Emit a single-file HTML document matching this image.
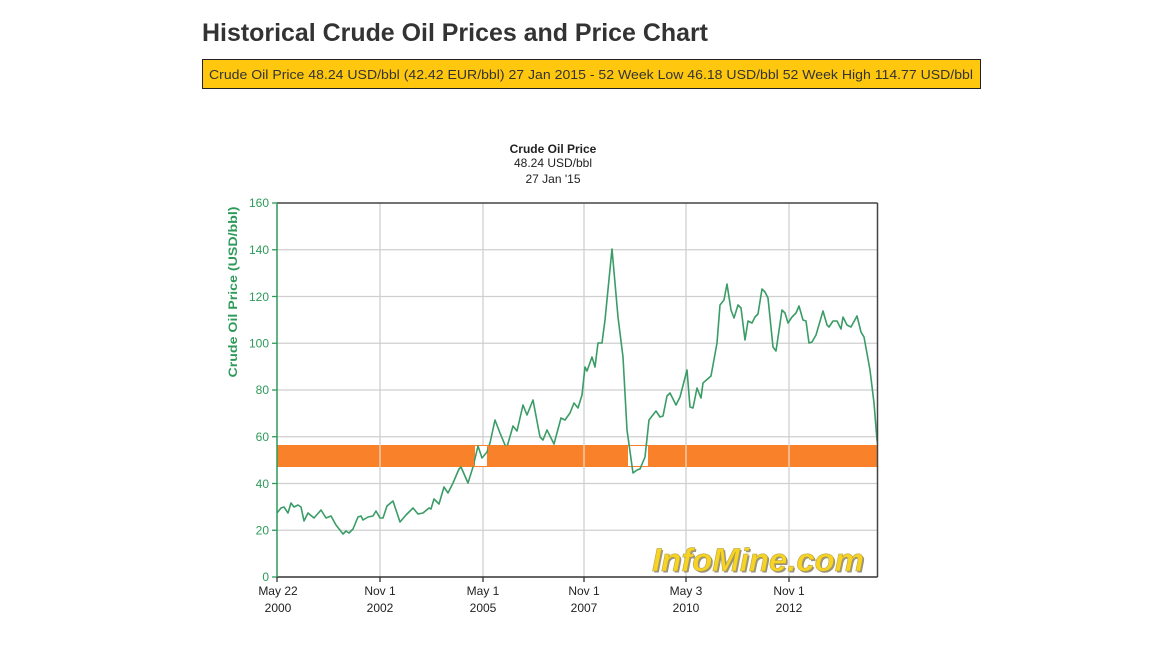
<!DOCTYPE html>
<html><head><meta charset="utf-8">
<style>
html,body{margin:0;padding:0;background:#fff;}
svg{display:block;}
text{font-family:"Liberation Sans",Arial,sans-serif;}
</style></head>
<body>
<svg width="1152" height="648" viewBox="0 0 1152 648" xmlns="http://www.w3.org/2000/svg">
<rect width="1152" height="648" fill="#fff"/>
<text x="202" y="41" font-size="25" font-weight="bold" fill="#333" textLength="506" lengthAdjust="spacingAndGlyphs">Historical Crude Oil Prices and Price Chart</text>
<rect x="202.5" y="59.5" width="778" height="29" fill="#FFC80F" stroke="#222" stroke-width="1"/>
<text x="209" y="79" font-size="13" fill="#333" textLength="764" lengthAdjust="spacingAndGlyphs">Crude Oil Price 48.24 USD/bbl (42.42 EUR/bbl) 27 Jan 2015 - 52 Week Low 46.18 USD/bbl 52 Week High 114.77 USD/bbl</text>

<text x="553" y="153" font-size="12" font-weight="bold" fill="#222" text-anchor="middle">Crude Oil Price</text>
<text x="553" y="167" font-size="12" fill="#222" text-anchor="middle">48.24 USD/bbl</text>
<text x="553" y="183" font-size="12" fill="#222" text-anchor="middle">27 Jan '15</text>

<g stroke="#cfcfcf" stroke-width="1.3">
<line x1="277" y1="530.25" x2="877" y2="530.25"/>
<line x1="277" y1="483.5" x2="877" y2="483.5"/>
<line x1="277" y1="436.75" x2="877" y2="436.75"/>
<line x1="277" y1="390" x2="877" y2="390"/>
<line x1="277" y1="343.25" x2="877" y2="343.25"/>
<line x1="277" y1="296.5" x2="877" y2="296.5"/>
<line x1="277" y1="249.75" x2="877" y2="249.75"/>
<line x1="380" y1="203" x2="380" y2="577"/>
<line x1="483" y1="203" x2="483" y2="577"/>
<line x1="584" y1="203" x2="584" y2="577"/>
<line x1="686" y1="203" x2="686" y2="577"/>
<line x1="789" y1="203" x2="789" y2="577"/>
</g>

<rect x="277" y="445" width="600" height="22" fill="#F8812A"/>
<rect x="474.5" y="445.5" width="13" height="21" fill="#fff" stroke="#F8812A" stroke-width="1"/>
<rect x="627.5" y="445.5" width="21" height="21" fill="#fff" stroke="#F8812A" stroke-width="1"/>

<clipPath id="c"><rect x="277" y="203" width="600" height="374"/></clipPath>
<polyline clip-path="url(#c)" fill="none" stroke="#3A9C66" stroke-width="1.6" stroke-linejoin="round" points="277,513 281,508 284,507 288,513 291,503 294,507 298,505 301,507 304,521 308,513 314,518 321,510 326,518 331,516 336,525 343,534 346,531 349,533 353,529 358,517 361,516 363,520 368,517 373,516 376,511 380,518 383,518 387,506 393,501 400,522 406,515 413,508 418,514 423,513 429,508 431,509 434,499 439,504 444,487 448,493 453,483 459,469 461,467 468,483 473,467 478,446 482,458 487,452 490,443 495,420 500,433 505,445 507,447 513,426 517,431 523,405 527,415 533,400 540,437 543,440 547,430 554,444 561,418 565,420 570,413 574,403 578,408 582,395 585,367 587,371 592,357 595,367 598,343 602,343 605,320 612,249 618,317 623,357 627,430 633,473 637,470 640,469 645,457 649,420 656,411 660,417 663,416 667,396 670,393 676,405 680,397 687,370 690,407 693,408 697,388 701,398 703,383 711,376 717,343 720,305 724,300 727,284 731,310 734,318 738,305 741,308 745,340 748,321 752,323 755,317 758,314 762,289 765,292 768,298 773,347 776,351 782,310 785,313 788,323 792,317 796,313 799,306 803,320 806,321 809,343 812,342 816,335 823,311 827,325 829,327 833,321 837,321 841,329 843,317 847,325 851,327 857,316 861,332 864,337 870,370 874,403 877,440 878,446"/>
<rect x="277" y="445.5" width="197" height="21" fill="#F8812A"/>
<rect x="488" y="445.5" width="139" height="21" fill="#F8812A"/>
<rect x="649" y="445.5" width="228" height="21" fill="#F8812A"/>
<g stroke="#f3d6c0" stroke-width="1.3">
<line x1="380" y1="445" x2="380" y2="467"/>
<line x1="584" y1="445" x2="584" y2="467"/>
<line x1="686" y1="445" x2="686" y2="467"/>
<line x1="789" y1="445" x2="789" y2="467"/>
</g>

<text x="653.5" y="572.5" font-size="32" font-weight="bold" font-style="italic" fill="#9a9480" textLength="212" lengthAdjust="spacingAndGlyphs">InfoMine.com</text>
<text x="652" y="571" font-size="32" font-weight="bold" font-style="italic" fill="#F7D424" stroke="#b09a40" stroke-width="0.5" textLength="212" lengthAdjust="spacingAndGlyphs">InfoMine.com</text>

<line x1="277" y1="203" x2="877.5" y2="203" stroke="#444" stroke-width="1.5"/>
<line x1="877.5" y1="203" x2="877.5" y2="577" stroke="#444" stroke-width="1.5"/>
<line x1="277" y1="577" x2="877.5" y2="577" stroke="#333" stroke-width="1.5"/>
<line x1="277" y1="203" x2="277" y2="577" stroke="#2E9A5A" stroke-width="1.5"/>

<g stroke="#2E9A5A" stroke-width="1.3">
<line x1="272" y1="577" x2="277" y2="577"/>
<line x1="272" y1="530.25" x2="277" y2="530.25"/>
<line x1="272" y1="483.5" x2="277" y2="483.5"/>
<line x1="272" y1="436.75" x2="277" y2="436.75"/>
<line x1="272" y1="390" x2="277" y2="390"/>
<line x1="272" y1="343.25" x2="277" y2="343.25"/>
<line x1="272" y1="296.5" x2="277" y2="296.5"/>
<line x1="272" y1="249.75" x2="277" y2="249.75"/>
<line x1="272" y1="203" x2="277" y2="203"/>
</g>
<g font-size="12" fill="#2E9A5A" text-anchor="end">
<text x="269" y="581">0</text>
<text x="269" y="534.5">20</text>
<text x="269" y="488">40</text>
<text x="269" y="441">60</text>
<text x="269" y="394">80</text>
<text x="269" y="347.5">100</text>
<text x="269" y="301">120</text>
<text x="269" y="254">140</text>
<text x="269" y="207">160</text>
</g>
<text transform="translate(237,292) rotate(-90)" font-size="12" font-weight="bold" fill="#2E9A5A" text-anchor="middle" textLength="171" lengthAdjust="spacingAndGlyphs">Crude Oil Price (USD/bbl)</text>

<g stroke="#333" stroke-width="1.3">
<line x1="277" y1="577" x2="277" y2="582"/>
<line x1="380" y1="577" x2="380" y2="582"/>
<line x1="483" y1="577" x2="483" y2="582"/>
<line x1="584" y1="577" x2="584" y2="582"/>
<line x1="686" y1="577" x2="686" y2="582"/>
<line x1="789" y1="577" x2="789" y2="582"/>
</g>
<g font-size="12" fill="#222" text-anchor="middle">
<text x="278" y="595">May 22</text><text x="278" y="612">2000</text>
<text x="380" y="595">Nov 1</text><text x="380" y="612">2002</text>
<text x="483" y="595">May 1</text><text x="483" y="612">2005</text>
<text x="584" y="595">Nov 1</text><text x="584" y="612">2007</text>
<text x="686" y="595">May 3</text><text x="686" y="612">2010</text>
<text x="789" y="595">Nov 1</text><text x="789" y="612">2012</text>
</g>
</svg>
</body></html>
